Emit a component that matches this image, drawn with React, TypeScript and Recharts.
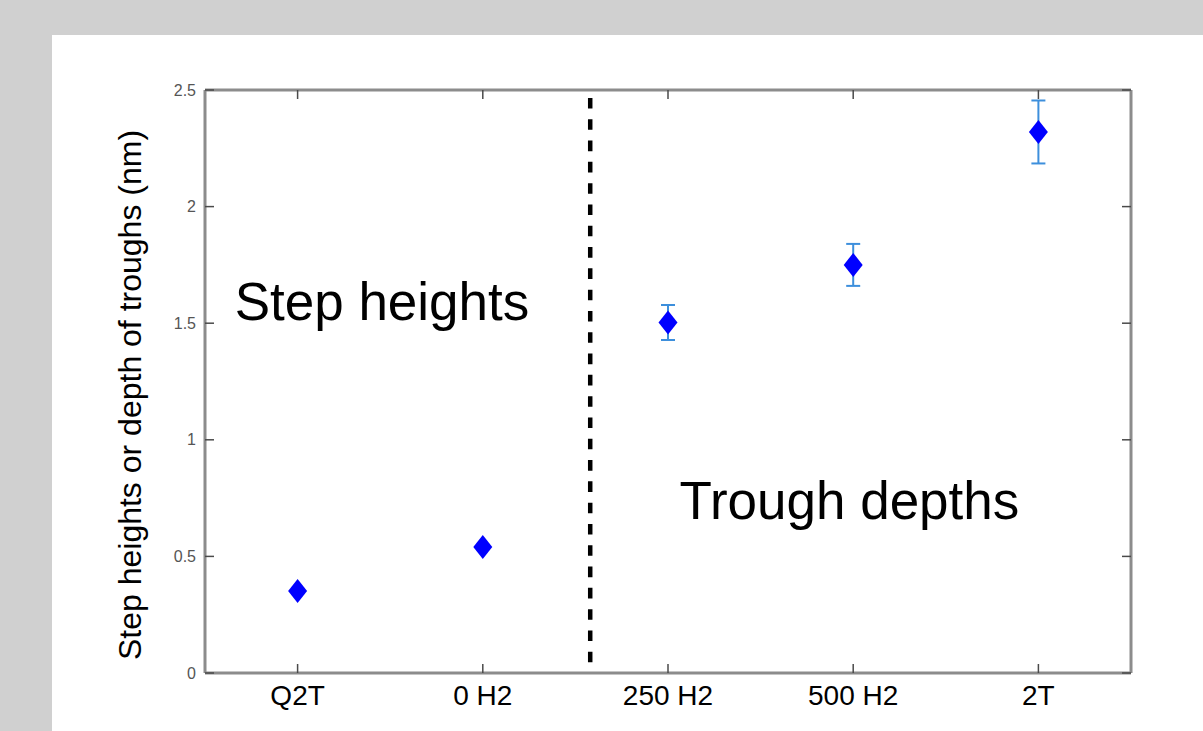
import React from 'react';
import { ComposedChart, Scatter, XAxis, YAxis, ErrorBar, ReferenceLine, Label } from 'recharts';

const categories = ['Q2T', '0 H2', '250 H2', '500 H2', '2T'];
const categoryX = [1, 2, 3, 4, 5];
const values = [0.352, 0.54, 1.503, 1.75, 2.32];
const errors = [0, 0, 0.075, 0.09, 0.135];
const yTicks = [0, 0.5, 1, 1.5, 2, 2.5];
const yTickLabels = ['0', '0.5', '1', '1.5', '2', '2.5'];
const dividerX = 2.58;
const dividerY = [2.466, 0.03];
const annotationTexts = ['Step heights', 'Trough depths'];
const annotationX = [0.66, 3.062];
const annotationY = [1.514, 0.66];
const yTitle = 'Step heights or depth of troughs (nm)';

const FONT = '"Liberation Sans", Arial, Helvetica, sans-serif';
const FRAME = '#8c8c8c';
const TICK = '#4a4a4a';

const data = categories.map((c, i) => ({ x: categoryX[i], y: values[i], err: errors[i], name: c }));
const annotations = annotationTexts.map((t, i) => ({ x: annotationX[i], y: annotationY[i], text: t }));

const BottomTick = (props: any) => {
  const { x, y, payload } = props;
  const idx = categoryX.indexOf(payload.value);
  return (
    <g>
      <line x1={x} y1={y} x2={x} y2={y - 9} stroke={TICK} strokeWidth={1.5} />
      <text x={x} y={y + 32} textAnchor="middle" fontSize={28} fill="#000" fontFamily={FONT}>
        {categories[idx]}
      </text>
    </g>
  );
};

const TopTick = (props: any) => {
  const { x, y } = props;
  return <line x1={x} y1={y} x2={x} y2={y + 9} stroke={TICK} strokeWidth={1.5} />;
};

const LeftTick = (props: any) => {
  const { x, y, payload } = props;
  const idx = yTicks.indexOf(payload.value);
  return (
    <g>
      <line x1={x} y1={y} x2={x + 9} y2={y} stroke={TICK} strokeWidth={1.5} />
      <text x={x - 9} y={y} textAnchor="end" dominantBaseline="central" fontSize={16} fill="#555" fontFamily={FONT}>
        {yTickLabels[idx]}
      </text>
    </g>
  );
};

const RightTick = (props: any) => {
  const { x, y } = props;
  return <line x1={x} y1={y} x2={x - 9} y2={y} stroke={TICK} strokeWidth={1.5} />;
};

const Diamond = (props: any) => {
  const { cx, cy } = props;
  return (
    <polygon
      points={`${cx},${cy - 12} ${cx + 9.5},${cy} ${cx},${cy + 12} ${cx - 9.5},${cy}`}
      fill="#0000ff"
    />
  );
};

const Nothing = () => <g />;

const AnnotationShape = (props: any) => {
  const { cx, cy, payload } = props;
  return (
    <text x={cx} y={cy} fontSize={53} fill="#000" fontFamily={FONT} textAnchor="start">
      {payload.text}
    </text>
  );
};

const YTitle = (props: any) => {
  const { viewBox } = props;
  const x = viewBox.x - 4;
  const y = viewBox.y + viewBox.height / 2 + 13.5;
  return (
    <text x={x} y={y} transform={`rotate(-90, ${x}, ${y})`} textAnchor="middle" fontSize={32} fill="#000" fontFamily={FONT}>
      {yTitle}
    </text>
  );
};

export default function App() {
  return (
    <div style={{ position: 'absolute', left: 0, top: 0, width: 1203, height: 731, background: '#d0d0d0', overflow: 'hidden' }}>
      <div style={{ position: 'absolute', left: 52, top: 35, width: 1151, height: 696, background: '#ffffff' }}>
        <ComposedChart width={1151} height={696} margin={{ top: 54, right: 71, left: 93, bottom: 18 }}>
          <XAxis
            xAxisId="bottom"
            type="number"
            dataKey="x"
            domain={[0.5, 5.5]}
            ticks={categoryX}
            allowDataOverflow
            height={40}
            tickSize={0}
            tickMargin={0}
            tickLine={false}
            axisLine={{ stroke: FRAME, strokeWidth: 3 }}
            tick={<BottomTick />}
            interval={0}
          />
          <XAxis
            xAxisId="top"
            orientation="top"
            type="number"
            dataKey="x"
            domain={[0.5, 5.5]}
            ticks={categoryX}
            allowDataOverflow
            height={1}
            tickSize={0}
            tickMargin={0}
            tickLine={false}
            axisLine={{ stroke: FRAME, strokeWidth: 3 }}
            tick={<TopTick />}
            interval={0}
          />
          <YAxis
            yAxisId="left"
            type="number"
            domain={[0, 2.5]}
            ticks={yTicks}
            allowDataOverflow
            width={60}
            tickSize={0}
            tickMargin={0}
            tickLine={false}
            axisLine={{ stroke: FRAME, strokeWidth: 3 }}
            tick={<LeftTick />}
            interval={0}
          >
            <Label content={<YTitle />} />
          </YAxis>
          <YAxis
            yAxisId="right"
            orientation="right"
            type="number"
            domain={[0, 2.5]}
            ticks={yTicks}
            allowDataOverflow
            width={1}
            tickSize={0}
            tickMargin={0}
            tickLine={false}
            axisLine={{ stroke: FRAME, strokeWidth: 3 }}
            tick={<RightTick />}
            interval={0}
          />
          <ReferenceLine
            xAxisId="bottom"
            yAxisId="left"
            segment={[{ x: dividerX, y: dividerY[0] }, { x: dividerX, y: dividerY[1] }]}
            stroke="#000"
            strokeWidth={4.5}
            strokeDasharray="10.6 10.7"
            ifOverflow="visible"
          />
          <Scatter
            xAxisId="top"
            yAxisId="right"
            data={data}
            dataKey="y"
            shape={<Nothing />}
            isAnimationActive={false}
          />
          <Scatter
            xAxisId="bottom"
            yAxisId="left"
            data={annotations}
            dataKey="y"
            shape={<AnnotationShape />}
            isAnimationActive={false}
          />
          <Scatter
            xAxisId="bottom"
            yAxisId="left"
            data={data}
            dataKey="y"
            shape={<Diamond />}
            isAnimationActive={false}
          >
            <ErrorBar dataKey="err" direction="y" width={7} stroke="#3d8fdc" strokeWidth={2} isAnimationActive={false} />
          </Scatter>
        </ComposedChart>
      </div>
    </div>
  );
}
